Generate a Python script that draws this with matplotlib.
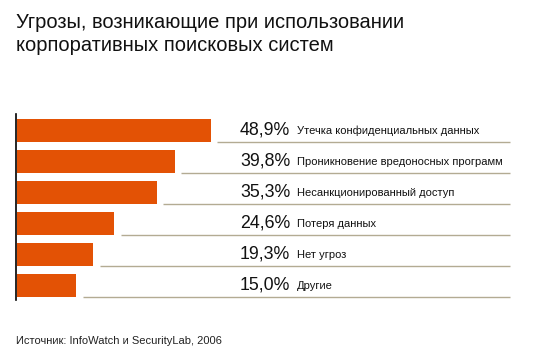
import matplotlib.pyplot as plt

# Data
labels = ['Утечка конфиденциальных данных',
          'Проникновение вредоносных программ',
          'Несанкционированный доступ',
          'Потеря данных',
          'Нет угроз',
          'Другие']
values = [48.9, 39.8, 35.3, 24.6, 19.3, 15.0]

title = 'Угрозы, возникающие при использовании\nкорпоративных поисковых систем'
source = 'Источник: InfoWatch и SecurityLab, 2006'

W, H = 533, 362
plt.rcParams['font.family'] = ['Liberation Sans', 'DejaVu Sans']

fig = plt.figure(figsize=(W / 100, H / 100), dpi=100)
fig.patch.set_facecolor('white')

# axes placed in pixel terms: left edge at x=16, from y=114 to y=300
px_per_unit = 3.96
ax = fig.add_axes([16 / W, 1 - 300 / H, (W - 16) / W, 186 / H])
ax.set_xlim(0, (W - 16) / px_per_unit)
ax.set_ylim(5.468, -0.532)

ys = list(range(len(values)))
bar_h = 23 / 31
ax.barh(ys, values, height=bar_h, left=0.25, color='#e35205', edgecolor='none', zorder=2)

line_end = (510 - 16) / px_per_unit
pct_x = (240 - 16) / px_per_unit
lab_x = (297 - 16) / px_per_unit
for y, v, lab in zip(ys, values, labels):
    ax.hlines(y + bar_h / 2 - 0.01, v + 1.8, line_end, color='#b3ab93', lw=1.0)
    ax.text(pct_x, y + 0.14, f'{v:.1f}%'.replace('.', ','), fontsize=12.8,
            va='baseline', ha='left', color='#111111')
    ax.text(lab_x, y + 0.12, lab, fontsize=8.0, va='baseline', ha='left', color='#111111')

for s in ['top', 'right', 'bottom']:
    ax.spines[s].set_visible(False)
ax.spines['left'].set_linewidth(1.2)
ax.spines['left'].set_color('black')
ax.set_xticks([])
ax.set_yticks([])

fig.text(16 / W, 1 - 13 / H, title, fontsize=14.5, va='top', ha='left',
         linespacing=1.25, color='#111111')
fig.text(16 / W, 1 - 344 / H, source, fontsize=8.0, va='baseline', ha='left', color='#222222')

fig.savefig('out.png', dpi=100, facecolor='white')
